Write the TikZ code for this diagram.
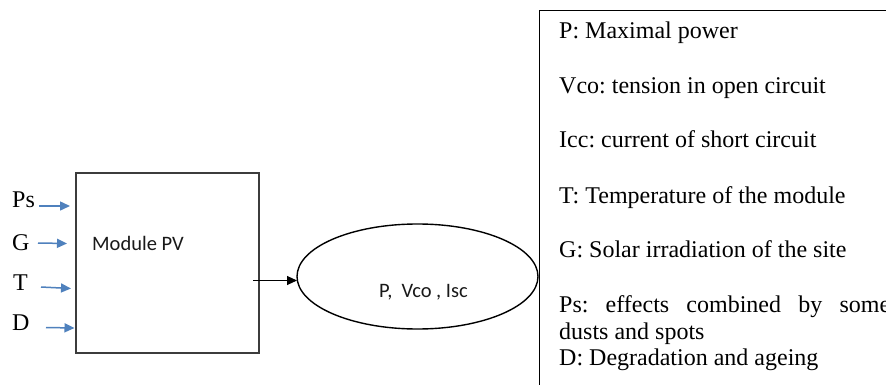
\documentclass[tikz,border=0pt]{standalone}
\usepackage{fontspec}
\setmainfont{Liberation Serif}
\newfontfamily\calib{Carlito}
\usetikzlibrary{arrows.meta,shapes.geometric}
\definecolor{arrblue}{RGB}{79,129,189}
\definecolor{boxgray}{RGB}{60,60,60}
\tikzset{
  serif/.style={inner sep=0pt, anchor=base west, font=\fontsize{24}{28}\selectfont},
  sans/.style={inner sep=0pt, anchor=base west, font=\calib\fontsize{20.5}{24}\selectfont, text=black!90},
  inarrow/.style={draw=arrblue, line width=1.5pt, -{Triangle[length=10pt,width=9pt]}},
  outarrow/.style={draw=black, line width=1pt, -{Triangle[length=10pt,width=9pt]}},
}
\frenchspacing
\begin{document}
\begin{tikzpicture}[x=1pt,y=-1pt]
\clip (0,0) rectangle (886,385);
\fill[white] (0,0) rectangle (886,385);
% module box
\node[draw=boxgray, line width=1.2pt, inner sep=0pt, outer sep=0pt, anchor=north west,
      minimum width=183pt, minimum height=180pt] (mod) at (76,173) {};
\node[sans] (modlab) at (92,250.5) {Module PV};
% input labels
\node[serif] (ps) at (12,207.5) {Ps};
\node[serif] (g) at (12,250) {G};
\node[serif] (t) at (13,290.5) {T};
\node[serif] (d) at (12,330.5) {D};
\coordinate (psA) at (39,206);   \coordinate (psB) at (70,206);
\coordinate (gA) at (38,243);    \coordinate (gB) at (67,243.5);
\coordinate (tA) at (41,287);    \coordinate (tB) at (71,288.5);
\coordinate (dA) at (46,327.5);  \coordinate (dB) at (74.5,328);
\draw[inarrow] (psA) -- (psB);
\draw[inarrow] (gA) -- (gB);
\draw[inarrow] (tA) -- (tB);
\draw[inarrow] (dA) -- (dB);
% ellipse
\node[ellipse, draw=black, line width=1.4pt, inner sep=0pt, outer sep=0pt,
      minimum width=241pt, minimum height=105pt] (ell) at (417.5,276.5) {};
\node[sans] (elllab) at (379,297.5) {P,\ \ Vco , Isc};
\coordinate (outA) at (253,280.5);
\draw[outarrow] (outA) -- (outA -| ell.west);
% legend box
\node[draw=black, line width=1pt, inner sep=0pt, outer sep=0pt, anchor=north west,
      minimum width=360pt, minimum height=390pt] (leg) at (539,11) {};
\node[serif] (l1) at (559,39) {P: Maximal power};
\node[serif] (l2) at (559,94) {Vco: tension in open circuit};
\node[serif] (l3) at (559,148) {Icc: current of short circuit};
\node[serif] (l4) at (559,203) {T: Temperature of the module};
\node[serif] (l5) at (559,257) {G: Solar irradiation of the site};
\node[serif] (l6) at (559,312) {\makebox[331pt][s]{Ps: effects combined by some}};
\node[serif] (l7) at (559,339) {dusts and spots};
\node[serif] (l8) at (559,365) {D: Degradation and ageing};
\end{tikzpicture}
\end{document}
